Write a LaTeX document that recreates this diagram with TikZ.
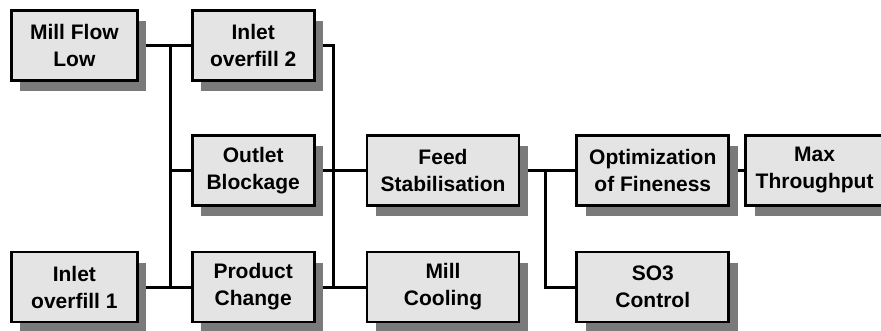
\documentclass[tikz,border=0pt]{standalone}
\usepackage{fontspec}
\setmainfont{Liberation Sans}
\usepackage{tikz}
\usetikzlibrary{positioning, shadows, backgrounds}
\definecolor{millFill}{HTML}{E4E4E4}
\definecolor{millShade}{HTML}{7A7A7A}

\begin{document}
\begin{tikzpicture}[
  x=1pt, y=1pt,
  node distance=52pt and 52pt,
  blk/.style={draw, line width=2.8pt, fill=millFill, align=center, inner sep=0pt,
              minimum height=70pt, minimum width=124pt,
              font=\bfseries\fontsize{21}{27}\selectfont,
              drop shadow={shadow xshift=9pt, shadow yshift=-11pt, fill=millShade, opacity=1}},
  wide/.style={blk, minimum width=152pt},
  link/.style={line width=3pt}
]
\useasboundingbox (0,0) rectangle (881,-330);

% first two columns
\node[blk, anchor=north west, minimum width=126pt] (mfl) at (10,-9) {Mill Flow\\Low};
\node[blk, right=52pt of mfl, minimum width=122pt] (io2) {Inlet\\overfill 2};
\node[blk, below=52pt of io2, minimum width=122pt] (ob) {Outlet\\Blockage};
\node[blk, below=44pt of ob, minimum width=122pt] (pc) {Product\\Change};
\node[blk, left=52pt of pc, minimum width=126pt] (io1) {Inlet\\overfill 1};

% right half
\node[wide, right=50pt of ob] (fs) {Feed\\Stabilisation};
\node[wide, below=44pt of fs] (mc) {Mill\\Cooling};
\node[wide, right=55pt of fs] (of) {Optimization\\of Fineness};
\node[wide, below=44pt of of] (so3) {SO3\\Control};
\node[blk, right=14pt of of, minimum width=138pt] (mt) {Max\\Throughput};

% bus joints
\path (mfl.east) -- (io2.west) coordinate[pos=0.6] (j1);
\path (io2.east) -- ++(18,0) coordinate (j2);
\path (fs.east) -- (of.west) coordinate[pos=0.45] (j3);

\begin{scope}[on background layer]
\draw[link] (mfl) -- (io2);
\draw[link] (io1) -- (pc);
\draw[link] (j1) -- (j1 |- pc.west);
\draw[link] (ob.west) -- (ob.west -| j1);
\draw[link] (io2.east) -- (j2) -- (j2 |- mc.west) -- (mc.west);
\draw[link] (ob) -- (fs);
\draw[link] (pc.east) -- (pc.east -| j2);
\draw[link] (fs) -- (of);
\draw[link] (j3) |- (so3.west);
\draw[link] (of) -- (mt);
\end{scope}

\end{tikzpicture}
\end{document}
